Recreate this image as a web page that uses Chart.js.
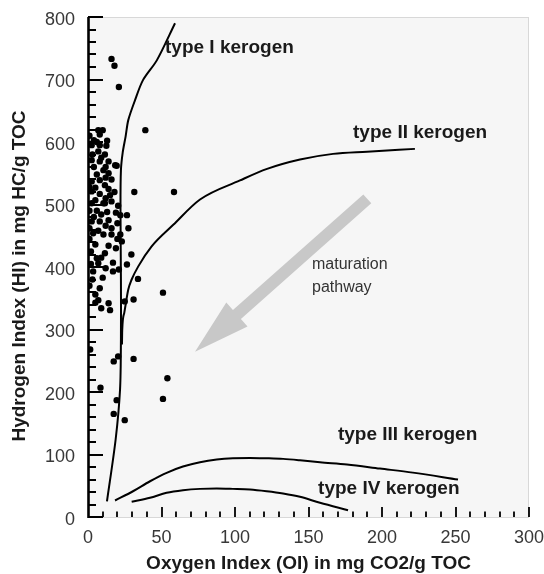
<!DOCTYPE html>
<html>
<head>
<meta charset="utf-8">
<title>Van Krevelen type diagram</title>
<script src="https://cdn.jsdelivr.net/npm/chart.js@4.4.0/dist/chart.umd.min.js"></script>
<style>
  html, body { margin: 0; padding: 0; background: #fff; }
  #chart { display: block; }
</style>
</head>
<body>
<canvas id="chart" width="544" height="574"></canvas>
<script>
// Samples: oxygen index (x) and hydrogen index (y)
const sampleOI = [16, 18, 21, 39, 31.5, 58.5, 7, 10, 8, 2.5, 8, 12.5, 7, 11.5, 14, 19.5, 8, 2.5, 10.5, 14,
  2.5, 8, 11.5, 2.5, 8, 15, 5, 20.5, 10.5, 18.5, 2.5, 11.5, 26.5, 22, 8, 2.5, 27.5, 16, 3.5, 10.5,
  16, 22, 23, 5, 11.5, 29.5, 6, 7, 17, 26.5, 3.5, 17, 34, 8, 51, 31, 25, 7, 5, 14,
  9, 15, 1.5, 20.5, 31, 17.5, 54, 8.5, 19.5, 51, 17.5, 25,
  1, 4, 6, 13, 3, 9, 12, 4, 6, 12, 16, 1, 5, 14, 18, 12, 16, 1, 6, 13, 19, 4, 9, 14, 20, 1, 7, 12,
  20, 1, 14, 19, 2, 9, 2, 12, 21, 3, 10, 1, 5];
const sampleHI = [733, 722, 688, 619, 520, 520, 619, 619, 612, 595, 595, 594, 585, 580, 569, 562, 569, 571, 555, 550,
  537, 539, 531, 521, 517, 515, 507, 498, 502, 563, 502, 502, 483, 483, 473, 473, 462, 462, 454, 452,
  452, 452, 441, 436, 422, 420, 414, 406, 407, 404, 393, 393, 381, 366, 359, 348, 345, 347, 343, 342,
  334, 331, 268, 257, 253, 249, 222, 207, 187, 189, 165, 155,
  610, 603, 600, 602, 580, 575, 560, 560, 548, 543, 540, 528, 527, 525, 520, 510, 505, 490, 490, 488, 487, 480, 484, 475, 470, 462, 458, 466,
  445, 445, 434, 430, 425, 415, 405, 398, 396, 380, 383, 370, 356];

// Kerogen type curves [OI, HI]
const typeICurve = [[12.9, 25], [18.8, 124], [21.8, 204], [22.4, 284], [22.4, 380], [22.1, 496], [22.4, 555],
  [23.6, 583], [25.6, 609], [27.4, 635], [32, 667], [37.4, 699], [46.9, 731], [59.2, 790]];
const typeIICurve = [[23.1, 276], [23.3, 300], [24.7, 327], [27.4, 364], [29.7, 380], [34.2, 401], [43.3, 433],
  [58, 467.5], [76.2, 508], [103.4, 538.5], [121.8, 557], [144.2, 572], [166.7, 581], [189.8, 584.5], [222.4, 589]];
const typeIIICurve = [[18.4, 26.4], [30.6, 41.2], [42.2, 57.2], [53.5, 70.7], [64.6, 80.7], [76.2, 87.6], [87.6, 91.9],
  [98.6, 94], [110.2, 94.6], [121.6, 94], [132.7, 93], [144.2, 90.8], [157.8, 87.6], [176.2, 84], [198.6, 77.5],
  [221, 71], [251.7, 60]];
const typeIVCurve = [[29.7, 24.3], [42.2, 30.7], [53.5, 38.7], [64.6, 42.8], [76.2, 45], [87.6, 45.6], [98.6, 45],
  [110.2, 44], [121.6, 41.2], [132.7, 37.6], [144.2, 32.3], [157.8, 22.7], [176.9, 10.9]];

// Axis tick labels
const xTickValues = [0, 50, 100, 150, 200, 250, 300];
const yTickValues = [0, 100, 200, 300, 400, 500, 600, 700, 800];

// Text annotations (anchored in data units)
const curveLabels = ['type I kerogen', 'type II kerogen', 'type III kerogen', 'type IV kerogen'];
const curveLabelOI = [52.4, 180.3, 170, 156.5];
const curveLabelHI = [750, 614.6, 131.9, 45.6];
const arrowFrom = { x: 190, y: 509 };
const arrowTo = { x: 72.8, y: 264.5 };
const yTitle = 'Hydrogen Index (HI) in mg HC/g TOC';

const FONT = "'Liberation Sans', Arial, Helvetica, sans-serif";

function toPoints(curve) {
  return curve.map(function(p) { return { x: p[0], y: p[1] }; });
}

function curveDataset(curve, smooth) {
  const ds = {
    type: 'line',
    data: toPoints(curve),
    borderColor: '#000',
    borderWidth: 2,
    pointRadius: 0,
    fill: false
  };
  if (smooth) {
    ds.cubicInterpolationMode = 'monotone';
  } else {
    ds.tension = 0.3;
  }
  return ds;
}

const decorPlugin = {
  id: 'decor',
  beforeDraw(chart) {
    const { ctx, chartArea: a } = chart;
    ctx.save();
    ctx.fillStyle = '#f6f6f6';
    ctx.fillRect(a.left, a.top, a.right - a.left, a.bottom - a.top);
    ctx.strokeStyle = '#d8d8d8';
    ctx.lineWidth = 1;
    ctx.strokeRect(a.left + 0.5, a.top + 0.5, a.right - a.left - 1, a.bottom - a.top);
    ctx.restore();
  },
  beforeDatasetsDraw(chart) {
    // grey maturation arrow
    const { ctx, scales } = chart;
    const x1 = scales.x.getPixelForValue(arrowFrom.x), y1 = scales.y.getPixelForValue(arrowFrom.y);
    const x2 = scales.x.getPixelForValue(arrowTo.x), y2 = scales.y.getPixelForValue(arrowTo.y);
    const ang = Math.atan2(y2 - y1, x2 - x1);
    const len = Math.hypot(x2 - x1, y2 - y1);
    const shaft = 6, head = 16, headLen = 56;
    ctx.save();
    ctx.translate(x1, y1);
    ctx.rotate(ang);
    ctx.fillStyle = '#c8c8c8';
    ctx.beginPath();
    ctx.moveTo(0, -shaft);
    ctx.lineTo(len - headLen, -shaft);
    ctx.lineTo(len - headLen, -head);
    ctx.lineTo(len, 0);
    ctx.lineTo(len - headLen, head);
    ctx.lineTo(len - headLen, shaft);
    ctx.lineTo(0, shaft);
    ctx.closePath();
    ctx.fill();
    ctx.restore();
  },
  afterDraw(chart) {
    const { ctx, chartArea: a, scales } = chart;
    ctx.save();
    // y axis line and ticks (inside)
    ctx.strokeStyle = '#000';
    ctx.lineWidth = 2.6;
    ctx.beginPath();
    ctx.moveTo(a.left + 0.5, a.top);
    ctx.lineTo(a.left + 0.5, a.bottom + 1);
    ctx.stroke();
    ctx.lineWidth = 2;
    for (let v = 0; v <= 800; v += 20) {
      const y = Math.round(scales.y.getPixelForValue(v));
      const l = v % 100 === 0 ? 15 : 8;
      ctx.beginPath();
      ctx.moveTo(a.left, y);
      ctx.lineTo(a.left + l, y);
      ctx.stroke();
    }
    // x axis ticks (inside, no axis line)
    ctx.lineWidth = 1.8;
    for (let v = 10; v <= 300; v += 10) {
      const x = Math.round(scales.x.getPixelForValue(v));
      const l = v % 50 === 0 ? 10 : 5.5;
      ctx.beginPath();
      ctx.moveTo(x, a.bottom);
      ctx.lineTo(x, a.bottom - l);
      ctx.stroke();
    }
    // y axis title, a bit below the centre of the plot like the original
    ctx.save();
    ctx.translate(20, (a.top + a.bottom) / 2 + 9);
    ctx.rotate(-Math.PI / 2);
    ctx.fillStyle = '#1a1a1a';
    ctx.font = 'bold 19px ' + FONT;
    ctx.textAlign = 'center';
    ctx.textBaseline = 'middle';
    ctx.fillText(yTitle, 0, 0);
    ctx.restore();
    // curve labels
    ctx.fillStyle = '#1a1a1a';
    ctx.font = 'bold 19px ' + FONT;
    ctx.textAlign = 'left';
    ctx.textBaseline = 'middle';
    curveLabels.forEach(function(t, i) {
      ctx.fillText(t, scales.x.getPixelForValue(curveLabelOI[i]), scales.y.getPixelForValue(curveLabelHI[i]));
    });
    ctx.fillStyle = '#333';
    ctx.font = '16px ' + FONT;
    ctx.fillText('maturation', scales.x.getPixelForValue(152.4), scales.y.getPixelForValue(403.6));
    ctx.fillText('pathway', scales.x.getPixelForValue(152.4), scales.y.getPixelForValue(366.8));
    ctx.restore();
  }
};

const ctx = document.getElementById('chart').getContext('2d');
const chart = new Chart(ctx, {
  type: 'scatter',
  data: {
    datasets: [
      {
        data: sampleOI.map(function(x, i) { return { x: x, y: sampleHI[i] }; }),
        backgroundColor: '#000',
        borderColor: '#000',
        pointRadius: 3.2,
        pointBorderWidth: 0
      },
      curveDataset(typeICurve, false),
      curveDataset(typeIICurve, true),
      curveDataset(typeIIICurve, true),
      curveDataset(typeIVCurve, true)
    ]
  },
  options: {
    responsive: false,
    animation: false,
    devicePixelRatio: 1,
    layout: { padding: { top: 17, right: 15, left: 0, bottom: 0 } },
    plugins: { legend: { display: false }, tooltip: { enabled: false } },
    scales: {
      x: {
        type: 'linear',
        min: 0,
        max: 300,
        grid: { display: false, drawTicks: false },
        border: { display: false },
        afterBuildTicks: function(s) { s.ticks = xTickValues.map(function(v) { return { value: v }; }); },
        afterFit: function(s) { s.height = 57; s.paddingLeft = 0; s.paddingRight = 0; },
        ticks: { padding: 10, color: '#383838', font: { family: FONT, size: 18 }, maxRotation: 0 },
        title: {
          display: true,
          text: 'Oxygen Index (OI) in mg CO2/g TOC',
          color: '#1a1a1a',
          font: { family: FONT, size: 19, weight: 'bold', lineHeight: 1 },
          padding: { top: 0, bottom: 1 }
        }
      },
      y: {
        type: 'linear',
        min: 0,
        max: 800,
        grid: { display: false, drawTicks: false },
        border: { display: false },
        afterBuildTicks: function(s) { s.ticks = yTickValues.map(function(v) { return { value: v }; }); },
        afterFit: function(s) { s.width = 88; s.paddingTop = 0; s.paddingBottom = 0; },
        ticks: { padding: 13, labelOffset: 3, color: '#383838', font: { family: FONT, size: 18 } },
        title: { display: false }
      }
    }
  },
  plugins: [decorPlugin]
});
</script>
</body>
</html>
